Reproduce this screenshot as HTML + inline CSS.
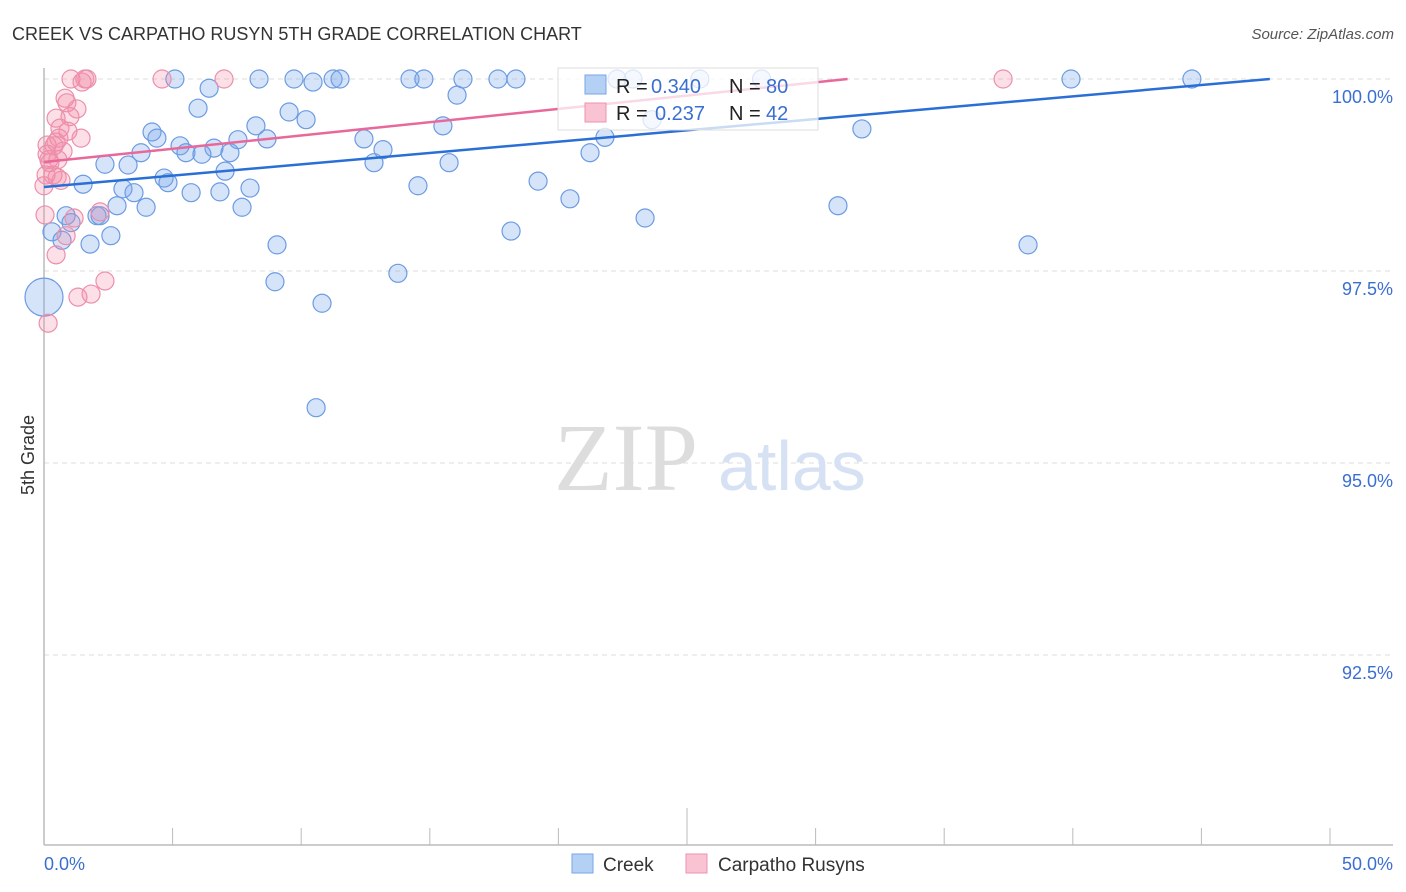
<!DOCTYPE html>
<html><head><meta charset="utf-8"><style>
body{margin:0;background:#fff;font-family:"Liberation Sans",sans-serif}
svg{display:block}
</style></head><body>
<svg width="1406" height="892" viewBox="0 0 1406 892">
<text x="12" y="40" font-size="18" fill="#333">CREEK VS CARPATHO RUSYN 5TH GRADE CORRELATION CHART</text>
<text x="1394" y="39" font-size="15" fill="#555" font-style="italic" text-anchor="end">Source: ZipAtlas.com</text>
<text transform="translate(34,455) rotate(-90)" font-size="18" fill="#333" text-anchor="middle">5th Grade</text>
<g id="grid"></g>
<text x="554" y="490" font-size="96" fill="#ddd" font-family="Liberation Serif,serif">ZIP</text>
<text x="718" y="490" font-size="70" fill="#d6e2f3">atlas</text>
<g id="pts"></g>
<g id="lines"></g>
<g>
<rect x="558" y="68" width="260" height="62" fill="#fff" fill-opacity="0.75" stroke="#ddd"/>
<rect x="585" y="75" width="21" height="19" fill="#b5d0f5" stroke="#7aa6e6"/>
<rect x="585" y="103" width="21" height="19" fill="#f9c3d3" stroke="#eb94ae"/>
<text y="93" font-size="20"><tspan x="616" fill="#222">R = </tspan><tspan x="651" fill="#3a6fd0">0.340</tspan><tspan x="729" fill="#222">N = </tspan><tspan x="766" fill="#3a6fd0">80</tspan></text>
<text y="120" font-size="20"><tspan x="616" fill="#222">R = </tspan><tspan x="655" fill="#3a6fd0">0.237</tspan><tspan x="729" fill="#222">N = </tspan><tspan x="766" fill="#3a6fd0">42</tspan></text>
</g>
<g>
<rect x="572" y="854" width="21" height="19" fill="#b5d0f5" stroke="#7aa6e6"/>
<text x="603" y="871" font-size="19" fill="#333">Creek</text>
<rect x="686" y="854" width="21" height="19" fill="#f9c3d3" stroke="#eb94ae"/>
<text x="718" y="871" font-size="19" fill="#333">Carpatho Rusyns</text>
</g>
</svg>
<script>
const xTicks=[0,5,10,15,20,25,30,35,40,45,50];
const yTicks=[100,97.5,95,92.5];
const yTickLabels=["100.0%","97.5%","95.0%","92.5%"];
const xEndLabels=["0.0%","50.0%"];
const creekX=[5.09,8.36,9.72,10.46,11.24,11.51,14.23,14.77,16.29,17.65,18.35,22.28,22.90,39.93,44.63,6.42,16.06,5.99,9.53,10.19,15.51,31.80,4.20,4.39,7.54,8.67,12.44,21.81,5.29,5.52,6.61,6.14,7.23,3.77,13.18,21.23,8.24,2.37,3.27,12.83,15.75,7.04,4.67,4.82,1.52,3.07,3.50,5.72,6.84,8.01,14.54,19.21,20.45,2.84,3.97,7.70,30.87,0.86,1.05,2.06,2.18,23.37,0.31,2.60,1.79,0.70,9.06,18.16,38.26,13.76,8.98,10.81,10.58,23.64,25.5,27.9];
const creekY=[100,100,100,99.96,100,100,100,100,100,100,100,100,100,100,100,99.88,99.79,99.62,99.57,99.47,99.39,99.35,99.31,99.23,99.21,99.22,99.22,99.24,99.13,99.04,99.10,99.02,99.04,99.04,99.08,99.04,99.39,98.89,98.88,98.91,98.91,98.80,98.71,98.65,98.63,98.57,98.52,98.52,98.53,98.58,98.61,98.67,98.44,98.35,98.33,98.33,98.35,98.22,98.13,98.22,98.22,98.19,98.01,97.96,97.85,97.90,97.84,98.02,97.84,97.47,97.36,97.08,95.72,99.47,100,100];
const creekBigX=[0.0];
const creekBigY=[97.16];
const rusX=[1.05,1.59,1.67,1.48,4.59,7.00,37.29,0.82,0.89,1.28,0.47,1.01,0.62,0.93,1.44,0.47,0.58,0.12,0.74,0.54,0.23,0.12,0.35,0.51,0.66,0.08,0,2.18,1.17,0.86,0.47,2.37,1.32,1.83,0.16,0.04,0.19,0.39];
const rusY=[100,100,100,99.96,100,100,100,99.75,99.69,99.61,99.49,99.51,99.36,99.32,99.23,99.18,99.23,99.14,99.06,98.95,98.91,99.02,98.75,98.72,98.68,98.75,98.61,98.27,98.19,97.96,97.71,97.37,97.16,97.20,96.82,98.23,98.95,99.13];
const creekTrend=[98.594,0.0295];
const rusTrend=[98.919,0.0346];
const NS="http://www.w3.org/2000/svg";
const X=v=>44+v/50*1286;
const Y=v=>79+(100-v)/2.5*192;
function mk(tag,attrs,parent){const e=document.createElementNS(NS,tag);for(const k in attrs)e.setAttribute(k,attrs[k]);parent.appendChild(e);return e;}
const grid=document.getElementById('grid');
const svg=document.querySelector('svg');
yTicks.forEach((t,i)=>{
 const l=mk('line',{x1:44,x2:1393,y1:Y(t),y2:Y(t),stroke:'#ddd','stroke-dasharray':'5,4'},grid);
 
 
 const tx=mk('text',{x:1393,y:Y(t)+24,'font-size':18,fill:'#3a6fd0','text-anchor':'end'},svg);
 tx.textContent=yTickLabels[i];
 
 
});
const ax=mk('line',{x1:44,x2:44,y1:68,y2:845,stroke:'#bbb','stroke-width':1.5},grid);


const bx=mk('line',{x1:44,x2:1393,y1:845,y2:845,stroke:'#bbb','stroke-width':1.5},grid);


xTicks.forEach((t,i)=>{
 const l=mk('line',{x1:X(t),x2:X(t),y1:(t===25?808:828),y2:845,stroke:'#bbb'},grid);
 
 
});
[[0,'start'],[50,'end']].forEach((p,i)=>{
 const tx=mk('text',{x:i?1393:44,y:870,'font-size':18,fill:'#3a6fd0','text-anchor':p[1]},svg);
 tx.textContent=xEndLabels[i];
 
 
});
const pts=document.getElementById('pts');
function dots(xs,ys,r,fill,stroke,name){xs.forEach((x,i)=>{
 const c=mk('circle',{cx:X(x),cy:Y(ys[i]),r:r,fill:fill,stroke:stroke,'stroke-width':1.2},pts);
 
 
});}
dots(creekX,creekY,9,'rgba(120,165,235,0.3)','#6b9be3','creek-point');
dots(creekBigX,creekBigY,19,'rgba(120,165,235,0.3)','#6b9be3','creek-point');
dots(rusX,rusY,9,'rgba(245,140,170,0.28)','#ec8fab','carpatho-point');
const lines=document.getElementById('lines');
function trend(tr,xe,col,name){
 const l=mk('line',{x1:X(0),y1:Y(tr[0]),x2:X(xe),y2:Y(tr[0]+tr[1]*xe),stroke:col,'stroke-width':2.5},lines);
 
 
}
trend(creekTrend,(100-creekTrend[0])/creekTrend[1],'#2a6fd6','creek-trendline');
trend(rusTrend,(100-rusTrend[0])/rusTrend[1],'#e8689a','carpatho-trendline');
</script>
</body></html>
